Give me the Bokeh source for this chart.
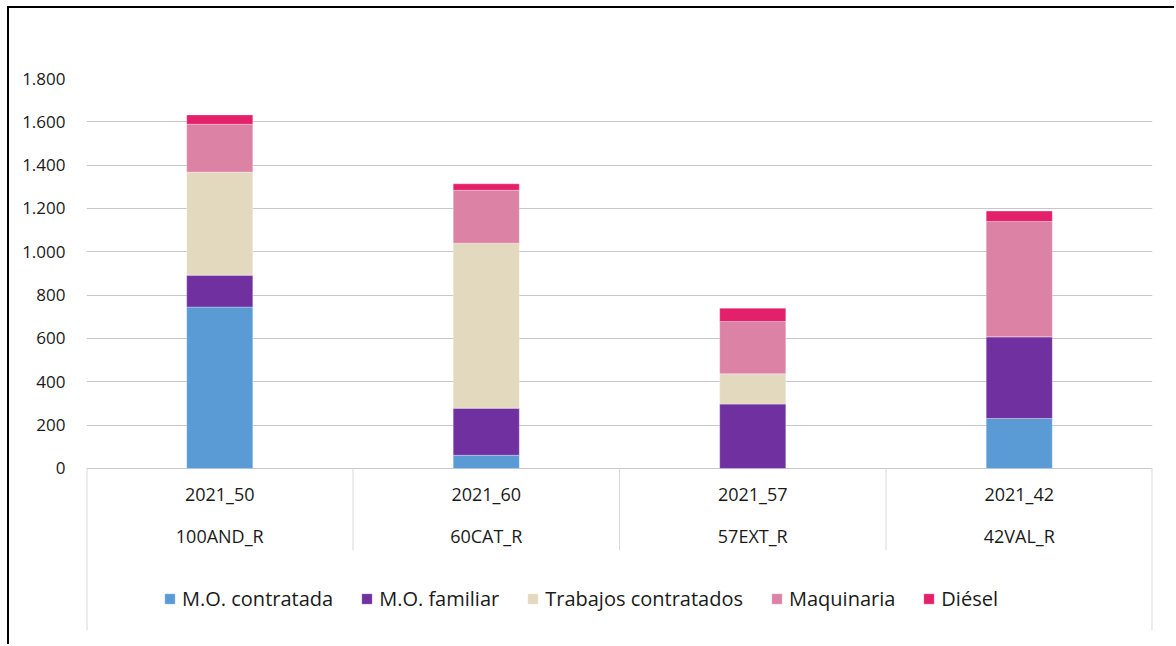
from bokeh.plotting import figure
from bokeh.models import (FactorRange, Range1d, FixedTicker, Legend, LegendItem,
                          ColumnDataSource, CategoricalAxis, CustomJSTickFormatter)
from bokeh.embed import file_html
from bokeh.resources import INLINE

# ---- data ----
codes = ["2021_50", "2021_60", "2021_57", "2021_42"]
regions = ["100AND_R", "60CAT_R", "57EXT_R", "42VAL_R"]
series = ["M.O. contratada", "M.O. familiar", "Trabajos contratados", "Maquinaria", "Diésel"]
mo_contratada = [745, 61, 0, 231]
mo_familiar = [147, 217, 297, 377]
trabajos_contratados = [476, 762, 140, 0]
maquinaria = [221, 244, 241, 532]
diesel = [43, 30, 62, 48]
y_ticks = [0, 200, 400, 600, 800, 1000, 1200, 1400, 1600, 1800]
y_tick_labels = ["0", "200", "400", "600", "800", "1.000", "1.200", "1.400", "1.600", "1.800"]
colors = ["#5B9BD5", "#7030A0", "#E3D9BE", "#DC82A5", "#E5206A"]

FONT = "Open Sans"
TEXT = "#1A1A1A"

keys = ["mo_c", "mo_f", "trab", "maq", "die"]
source = ColumnDataSource(dict(cat=codes, mo_c=mo_contratada, mo_f=mo_familiar,
                               trab=trabajos_contratados, maq=maquinaria, die=diesel))

p = figure(width=1167, height=638,
           x_range=FactorRange(*codes, range_padding=0, factor_padding=0),
           y_range=Range1d(-748, 1800),
           output_backend="svg", toolbar_location=None,
           min_border_left=77, min_border_right=24, min_border_top=70, min_border_bottom=16)

p.outline_line_color = None
p.background_fill_color = "white"
p.border_fill_color = "white"
p.xgrid.grid_line_color = None
p.ygrid.grid_line_color = "#C8C8C8"
p.ygrid.grid_line_width = 1

# table lines below the axis
n = len(codes)
p.segment(x0=list(range(1, n)), y0=[0] * (n - 1), x1=list(range(1, n)), y1=[-378] * (n - 1),
          line_color="#D9D9D9", line_width=1)
p.segment(x0=[0, n], y0=[0, 0], x1=[0, n], y1=[-748, -748], line_color="#D9D9D9", line_width=2)

renderers = p.vbar_stack(keys, x="cat", width=0.248, color=colors, source=source,
                         line_color="white", line_width=0.5, line_alpha=0.6)

legend = Legend(items=[LegendItem(label=s, renderers=[r]) for s, r in zip(series, renderers)],
                orientation="horizontal", location=(77, 18),
                border_line_color=None, background_fill_alpha=0,
                padding=0, margin=0, spacing=27, label_standoff=6,
                glyph_width=13, glyph_height=13,
                label_text_font=FONT, label_text_font_size="20px", label_text_color=TEXT)
p.add_layout(legend, "center")

# y axis
p.yaxis.ticker = FixedTicker(ticks=y_ticks)
p.yaxis.major_label_overrides = dict(zip(y_ticks, y_tick_labels))
p.yaxis.axis_line_color = None
p.yaxis.major_tick_line_color = None
p.yaxis.minor_tick_line_color = None
p.yaxis.major_tick_out = 0
p.yaxis.major_label_standoff = 21
p.yaxis.major_label_text_font = FONT
p.yaxis.major_label_text_font_size = "17px"
p.yaxis.major_label_text_color = TEXT


def style_x(ax, standoff):
    ax.fixed_location = 0
    ax.axis_line_color = None
    ax.major_tick_line_color = None
    ax.minor_tick_line_color = None
    ax.major_tick_out = 0
    ax.major_label_standoff = standoff
    ax.major_label_text_font = FONT
    ax.major_label_text_font_size = "18px"
    ax.major_label_text_color = TEXT


# first line of category labels (codes)
style_x(p.xaxis[0], 14)

# second line of category labels (regions)
ax2 = CategoricalAxis(formatter=CustomJSTickFormatter(
    args=dict(codes=codes, regions=regions),
    code="const i = codes.indexOf(tick); return i >= 0 ? regions[i] : tick;"))
style_x(ax2, 56)
p.add_layout(ax2, "below")

p.styles = {"border-top": "2px solid #000", "border-left": "2px solid #000",
            "margin-left": "7px", "margin-top": "6px"}

open("out.html", "w").write(file_html(p, INLINE))
